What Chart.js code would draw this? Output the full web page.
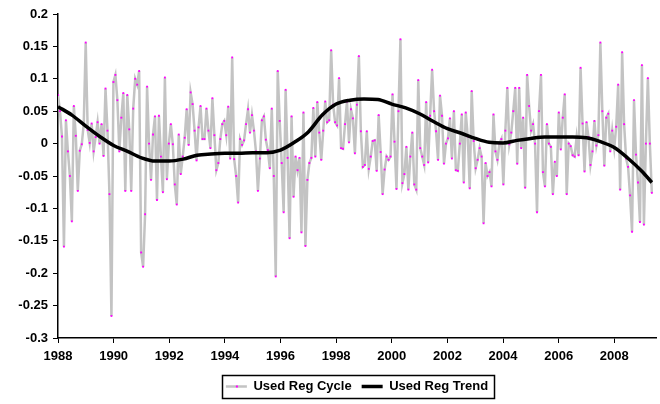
<!DOCTYPE html>
<html>
<head>
<meta charset="utf-8">
<script src="https://cdn.jsdelivr.net/npm/chart.js@4.4.1/dist/chart.umd.min.js"></script>
<style>
  html, body { margin: 0; padding: 0; background: #fff; }
  #wrap { width: 660px; height: 404px; }
</style>
</head>
<body>
<div id="wrap"><canvas id="chart" width="660" height="404"></canvas></div>
<script>
// Used Reg cycle (1988 .. mid 2009)
const cycleStart = 1988.0;
const cycleEnd = 2009.35;
const cycleValues = [
  0.075, 0.05, 0.011, -0.159, 0.036, -0.012, -0.05, -0.12, 0.058, 0.012, -0.073, -0.011,
  -0.001, 0.03, 0.156, 0.021, 0.001, 0.031, -0.012, 0.01, 0.033, 0.0, 0.03, -0.019,
  0.085, 0.02, -0.078, -0.266, 0.095, 0.106, 0.067, -0.012, 0.04, 0.078, -0.073, 0.075,
  0.022, -0.073, 0.054, 0.1, 0.091, 0.112, -0.168, -0.19, -0.109, 0.088, 0.0, -0.056,
  0.014, 0.042, -0.087, 0.043, -0.02, -0.075, 0.102, -0.055, 0.0, 0.030, -0.001, -0.063,
  -0.094, 0.014, -0.047, -0.02, 0.009, 0.053, -0.002, 0.079, 0.061, 0.02, -0.026, 0.025,
  0.058, 0.007, 0.007, 0.054, 0.02, -0.007, 0.070, 0.013, -0.041, -0.030, 0.007, 0.03,
  0.035, 0.013, 0.057, -0.023, 0.133, -0.024, -0.05, -0.091, 0.007, -0.002, 0.005, 0.03,
  0.053, 0.017, 0.044, 0.02, -0.012,
  -0.073, -0.023, 0.036, 0.042, 0.006, -0.01, -0.038, 0.054, -0.05, -0.205, 0.112, 0.035,
  -0.03, -0.106, 0.083, -0.022, -0.146, 0.042, -0.082, -0.02, -0.041, -0.022, -0.137, 0.048,
  -0.158, -0.056, -0.03, -0.022, 0.055, -0.02, 0.064, 0.017, -0.025, 0.02, 0.065, 0.033,
  0.036, 0.144, 0.06, 0.033, 0.028, 0.101, -0.007, -0.008, 0.03, 0.065, 0.002, 0.053, 0.039,
  -0.015, 0.06, 0.135, 0.019, -0.036, -0.033, 0.019, -0.039, -0.02, 0.004, 0.005, -0.042,
  0.044, -0.013, -0.078, -0.04, -0.02, -0.025, -0.02, 0.076, 0.003, -0.070, 0.05, 0.161,
  -0.061, -0.047, -0.005, -0.071, -0.02, 0.017, -0.063, -0.071, 0.098, -0.007, -0.02, -0.033,
  0.064, -0.029, 0.043, 0.114, 0.05, 0.019, -0.025, 0.074, 0.043, -0.031, 0.0, 0.008, 0.039,
  -0.023, 0.050, -0.041, -0.042, 0.0, 0.045, -0.060, 0.048, 0.011, -0.069, 0.081, 0.004,
  -0.038, -0.025, -0.007, -0.02, -0.123, -0.03, -0.05, -0.044, -0.066, 0.045, -0.012, -0.025,
  0.0, 0.007, -0.063, 0.02, 0.086, -0.001, 0.017, 0.05, 0.086, -0.031, 0.086, -0.007,
  0.04, -0.068, 0.106, 0.058, 0.02, 0.030, 0.0, -0.106, 0.05, 0.106, -0.044, -0.066,
  0.030, 0.0, -0.005, -0.078,
  -0.028, -0.050, 0.048, -0.009, 0.04, 0.076, -0.078, 0.000, -0.004, -0.018, -0.02, 0.01,
  -0.018, 0.117, 0.031, -0.043, 0.033, 0.01, -0.033, -0.012, 0.035, -0.003, 0.013, 0.156,
  0.050, -0.034, 0.04, 0.046, -0.012, 0.02, -0.007, 0.026, 0.091, -0.071, 0.141, 0.03,
  -0.023, -0.036, -0.08, -0.136, 0.067, -0.017, -0.06, -0.121, 0.121, -0.125, 0.0, 0.101,
  0.0, -0.076
];

// Used Reg trend, read every half year
const trendYears = [
  1988.0, 1988.5, 1989.0, 1989.5, 1990.0, 1990.5, 1991.0, 1991.5, 1992.0, 1992.5,
  1993.0, 1993.5, 1994.0, 1994.5, 1995.0, 1995.5, 1996.0, 1996.5, 1997.0, 1997.5,
  1998.0, 1998.5, 1999.0, 1999.5, 2000.0, 2000.5, 2001.0, 2001.5, 2002.0, 2002.5,
  2003.0, 2003.5, 2004.0, 2004.5, 2005.0, 2005.5, 2006.0, 2006.5, 2007.0, 2007.5,
  2008.0, 2008.5, 2009.0, 2009.35
];
const trendValues = [
  0.057, 0.044, 0.027, 0.011, -0.003, -0.012, -0.022, -0.027, -0.027, -0.024,
  -0.018, -0.016, -0.015, -0.015, -0.014, -0.014, -0.010, 0.002, 0.018, 0.044,
  0.061, 0.067, 0.069, 0.068, 0.061, 0.055, 0.046, 0.034, 0.023, 0.016,
  0.008, 0.002, 0.001, 0.005, 0.008, 0.010, 0.010, 0.010, 0.009, 0.003,
  -0.006, -0.023, -0.043, -0.060
];

const yearTicks = [1988, 1990, 1992, 1994, 1996, 1998, 2000, 2002, 2004, 2006, 2008];
const seriesNames = ['Used Reg Cycle', 'Used Reg Trend'];

const step = (cycleEnd - cycleStart) / (cycleValues.length - 1);
const cyclePoints = cycleValues.map((v, i) => ({ x: cycleStart + i * step, y: v }));
const trendPoints = trendYears.map((yr, i) => ({ x: yr, y: trendValues[i] }));

const font = { family: '"Liberation Sans", Arial, sans-serif', size: 13, weight: 'bold' };

// box round the legend and the little magenta marker on the cycle sample
const legendBox = {
  id: 'legendBox',
  afterDraw(chart) {
    const boxes = chart.legend.legendHitBoxes;
    if (!boxes || !boxes.length) return;
    const ctx = chart.ctx;
    const left = Math.min(...boxes.map(b => b.left)) - 4;
    const right = Math.max(...boxes.map(b => b.left + b.width)) + 6;
    const top = boxes[0].top - 5;
    const h = boxes[0].height + 10;
    ctx.save();
    ctx.strokeStyle = '#000';
    ctx.lineWidth = 1.5;
    ctx.strokeRect(Math.round(left) + 0.5, Math.round(top) + 0.5, Math.round(right - left), Math.round(h));
    const cyc = boxes.find((b, i) => chart.legend.legendItems[i].text === seriesNames[0]);
    if (cyc) {
      ctx.fillStyle = '#ff00ff';
      ctx.fillRect(cyc.left + 10, cyc.top + cyc.height / 2 - 1, 2, 2);
    }
    ctx.restore();
  }
};

new Chart(document.getElementById('chart'), {
  type: 'line',
  data: {
    datasets: [
      {
        label: seriesNames[1],
        data: trendPoints,
        borderColor: '#000',
        borderWidth: 3.5,
        pointRadius: 0,
        cubicInterpolationMode: 'monotone',
        fill: false
      },
      {
        label: seriesNames[0],
        data: cyclePoints,
        borderColor: '#c3c3c3',
        borderWidth: 2.5,
        pointRadius: 1.3,
        pointStyle: 'rect',
        pointBackgroundColor: '#ff00ff',
        pointBorderWidth: 0,
        tension: 0,
        fill: false
      }
    ]
  },
  options: {
    responsive: false,
    animation: false,
    devicePixelRatio: 1,
    layout: { padding: { top: 14, right: 0, bottom: 1, left: 0 } },
    plugins: {
      tooltip: { enabled: false },
      legend: {
        position: 'bottom',
        fullSize: false,
        labels: {
          color: '#000',
          font: font,
          usePointStyle: true,
          pointStyleWidth: 21,
          padding: 10,
          sort: (a, b) => b.datasetIndex - a.datasetIndex,
          // line samples in the series' own line colour and width
          generateLabels: (chart) => chart.data.datasets.map((ds, i) => ({
            text: ds.label,
            datasetIndex: i,
            pointStyle: 'line',
            strokeStyle: ds.borderColor,
            fillStyle: ds.borderColor,
            lineWidth: ds.borderWidth,
            fontColor: '#000',
            hidden: false
          }))
        }
      }
    },
    scales: {
      x: {
        type: 'linear',
        min: 1988,
        max: 2009.5,
        afterBuildTicks: (scale) => { scale.ticks = yearTicks.map(v => ({ value: v })); },
        afterFit: (scale) => { scale.height = 32; },
        grid: { display: true, drawOnChartArea: false, drawTicks: true, tickLength: 5, color: '#000' },
        border: { display: true, color: '#000', width: 1.5 },
        ticks: {
          color: '#000',
          font: font,
          padding: 6,
          maxRotation: 0,
          autoSkip: false,
          callback: (v) => String(v)
        }
      },
      y: {
        min: -0.3,
        max: 0.2,
        afterFit: (scale) => { scale.width = 58; },
        grid: { display: true, drawOnChartArea: false, drawTicks: true, tickLength: 5, color: '#000' },
        border: { display: true, color: '#000', width: 1.5 },
        ticks: {
          stepSize: 0.05,
          color: '#000',
          font: font,
          padding: 5,
          callback: (v) => String(+v.toFixed(2))
        }
      }
    }
  },
  plugins: [legendBox]
});
</script>
</body>
</html>
